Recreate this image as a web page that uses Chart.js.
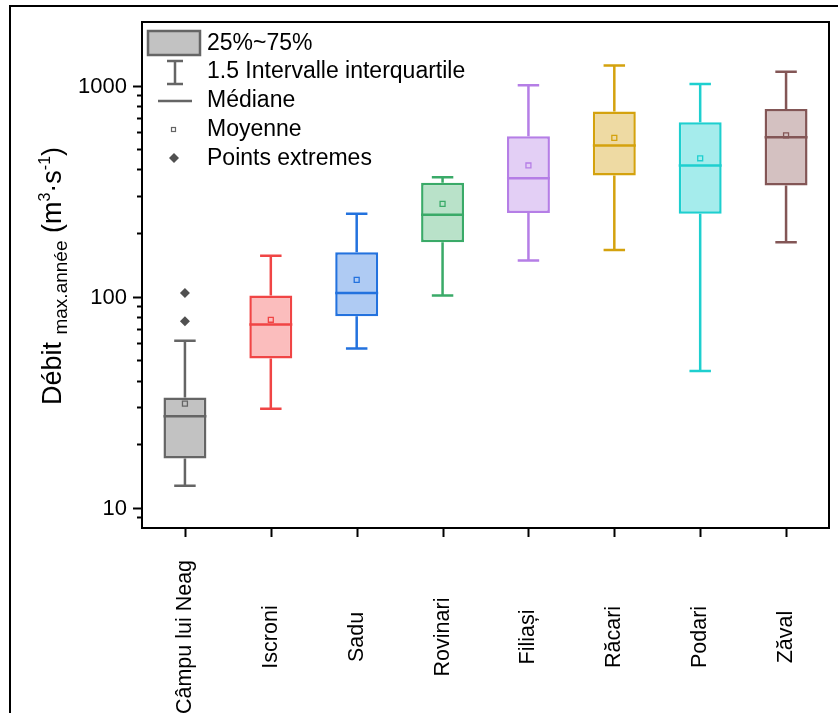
<!DOCTYPE html>
<html>
<head>
<meta charset="utf-8">
<script src="https://cdn.jsdelivr.net/npm/chart.js@4.4.1/dist/chart.umd.min.js"></script>
<style>
  html, body { margin: 0; padding: 0; background: #fff; }
  canvas { display: block; }
</style>
</head>
<body>
<canvas id="boxChart" width="838" height="713"></canvas>
<script>
// Stations (axe X)
const categories = ["Câmpu lui Neag", "Iscroni", "Sadu", "Rovinari", "Filiași", "Răcari", "Podari", "Zăval"];

// Statistiques des boîtes (m3/s)
const whiskerLow  = [12.7, 29.4, 56.7, 101, 148, 166, 44.4, 181];
const q1          = [17.1, 50.8, 80.7, 181, 249, 375, 247, 336];
const medians     = [27.1, 73.7, 104, 244, 364, 520, 418, 569];
const q3          = [33.2, 101, 162, 346, 575, 753, 670, 775];
const whiskerHigh = [61.7, 156, 247, 368, 1003, 1244, 1018, 1161];
const means       = [31.1, 77.6, 120, 275, 418, 565, 452, 580];

// Points extremes (Câmpu lui Neag)
const outlierStation = ["Câmpu lui Neag", "Câmpu lui Neag"];
const outlierValues = [104, 76.4];

// Graduations de l'axe Y
const yTickLabels = [10, 100, 1000];

// Couleurs
const strokeColors = ["#656565", "#F04545", "#2372DE", "#3AAA68", "#B57EE6", "#D4A20E", "#1ECFCF", "#835656"];
const fillColors   = ["#C2C2C2", "#FBBDBD", "#AFCBF3", "#B9E2C9", "#E3CFF5", "#EEDAA3", "#A5ECEC", "#D4C1C1"];

const FONT = "Arial, 'Liberation Sans', sans-serif";

// Plugin: moustaches, médianes, axes, légende
const boxPlugin = {
  id: "boxPlugin",
  beforeDatasetsDraw(chart) {
    const ctx = chart.ctx;
    const y = chart.scales.y;
    const meta = chart.getDatasetMeta(2);
    ctx.save();
    ctx.lineWidth = 2.5;
    meta.data.forEach((bar, i) => {
      const x = bar.x;
      const half = bar.width / 4;
      const yLow = y.getPixelForValue(whiskerLow[i]);
      const yHigh = y.getPixelForValue(whiskerHigh[i]);
      ctx.strokeStyle = strokeColors[i];
      ctx.beginPath();
      ctx.moveTo(x, yLow); ctx.lineTo(x, y.getPixelForValue(q1[i]));
      ctx.moveTo(x, y.getPixelForValue(q3[i])); ctx.lineTo(x, yHigh);
      ctx.moveTo(x - half, yLow); ctx.lineTo(x + half, yLow);
      ctx.moveTo(x - half, yHigh); ctx.lineTo(x + half, yHigh);
      ctx.stroke();
    });
    ctx.restore();
  },
  afterDatasetsDraw(chart) {
    const ctx = chart.ctx;
    const y = chart.scales.y;
    const meta = chart.getDatasetMeta(2);
    ctx.save();
    ctx.lineWidth = 2.5;
    meta.data.forEach((bar, i) => {
      const py = y.getPixelForValue(medians[i]);
      ctx.strokeStyle = strokeColors[i];
      ctx.beginPath();
      ctx.moveTo(bar.x - bar.width / 2, py);
      ctx.lineTo(bar.x + bar.width / 2, py);
      ctx.stroke();
    });
    ctx.restore();
  },
  afterDraw(chart) {
    const ctx = chart.ctx;
    const area = chart.chartArea;
    const xs = chart.scales.x;
    const ys = chart.scales.y;
    ctx.save();

    // cadre extérieur
    ctx.strokeStyle = "#000";
    ctx.lineWidth = 2;
    ctx.beginPath();
    ctx.moveTo(10, 713); ctx.lineTo(10, 6); ctx.lineTo(838, 6);
    ctx.stroke();

    // cadre du graphique
    ctx.strokeRect(area.left, area.top, area.right - area.left, area.bottom - area.top);

    // graduations Y (majeures et mineures)
    ctx.lineWidth = 2;
    for (let p = 0; p <= 3; p++) {
      for (let m = 1; m <= 9; m++) {
        const val = m * Math.pow(10, p);
        if (val < ys.min || val > ys.max) continue;
        const py = Math.round(ys.getPixelForValue(val)) + 0.5;
        if (py > area.bottom - 1 || py < area.top + 1) continue;
        const len = m === 1 ? 9 : 5;
        ctx.beginPath();
        ctx.moveTo(area.left - len, py); ctx.lineTo(area.left, py);
        ctx.stroke();
      }
    }

    ctx.fillStyle = "#000";
    ctx.font = "22px " + FONT;
    ctx.textAlign = "right";
    ctx.textBaseline = "middle";
    yTickLabels.forEach(v => {
      ctx.fillText(String(v), area.left - 15, ys.getPixelForValue(v) + 1);
    });

    // graduations X et étiquettes
    categories.forEach((c, i) => {
      const px = Math.round(xs.getPixelForValue(i)) + 0.5;
      ctx.beginPath();
      ctx.moveTo(px, area.bottom); ctx.lineTo(px, area.bottom + 9);
      ctx.stroke();
      ctx.save();
      ctx.translate(px, 637);
      ctx.rotate(-Math.PI / 2);
      ctx.textAlign = "center";
      ctx.textBaseline = "middle";
      ctx.font = "21.5px " + FONT;
      ctx.fillText(c, 0, 0);
      ctx.restore();
    });

    // titre de l'axe Y
    const parts = [
      { t: "Débit ", s: 27, dy: 0 },
      { t: "max.année", s: 19, dy: 6 },
      { t: " (m", s: 27, dy: 0 },
      { t: "3", s: 16, dy: -11 },
      { t: "·s", s: 27, dy: 0 },
      { t: "-1", s: 16, dy: -11 },
      { t: ")", s: 27, dy: 0 }
    ];
    let total = 0;
    parts.forEach(p => { ctx.font = p.s + "px " + FONT; p.w = ctx.measureText(p.t).width; total += p.w; });
    ctx.save();
    ctx.translate(61, 276);
    ctx.rotate(-Math.PI / 2);
    ctx.textAlign = "left";
    ctx.textBaseline = "alphabetic";
    let cx = -total / 2;
    parts.forEach(p => {
      ctx.font = p.s + "px " + FONT;
      ctx.fillText(p.t, cx, p.dy);
      cx += p.w;
    });
    ctx.restore();

    // légende
    ctx.font = "23px " + FONT;
    ctx.textAlign = "left";
    ctx.textBaseline = "middle";
    const legendColor = "#656565";
    ctx.fillStyle = "#C2C2C2";
    ctx.fillRect(148, 31, 52, 24);
    ctx.strokeStyle = legendColor;
    ctx.lineWidth = 2.5;
    ctx.strokeRect(148, 31, 52, 24);
    ctx.beginPath();
    ctx.moveTo(175, 61); ctx.lineTo(175, 84);
    ctx.moveTo(167, 61); ctx.lineTo(183, 61);
    ctx.moveTo(167, 84); ctx.lineTo(183, 84);
    ctx.moveTo(158, 101); ctx.lineTo(192, 101);
    ctx.stroke();
    ctx.lineWidth = 1.2;
    ctx.strokeRect(171.5, 127.5, 4, 4);
    ctx.fillStyle = "#505050";
    ctx.beginPath();
    ctx.moveTo(174, 153); ctx.lineTo(179, 158); ctx.lineTo(174, 163); ctx.lineTo(169, 158);
    ctx.closePath();
    ctx.fill();
    ctx.fillStyle = "#000";
    ctx.fillText("25%~75%", 207, 44);
    ctx.fillText("1.5 Intervalle interquartile", 207, 72);
    ctx.fillText("Médiane", 207, 101);
    ctx.fillText("Moyenne", 207, 130);
    ctx.fillText("Points extremes", 207, 159);

    ctx.restore();
  }
};

const ctx = document.getElementById("boxChart").getContext("2d");

new Chart(ctx, {
  type: "bar",
  data: {
    labels: categories,
    datasets: [
      {
        type: "line",
        label: "Moyenne",
        data: means,
        showLine: false,
        pointStyle: "rect",
        pointRadius: 3.5,
        pointBorderWidth: 1.3,
        pointBorderColor: strokeColors,
        pointBackgroundColor: "rgba(0,0,0,0)",
        order: 0
      },
      {
        type: "line",
        label: "Points extremes",
        data: outlierStation.map((s, i) => ({ x: s, y: outlierValues[i] })),
        showLine: false,
        pointStyle: "rectRot",
        pointRadius: 5,
        pointBorderWidth: 0,
        pointBackgroundColor: "#505050",
        pointBorderColor: "#505050",
        order: 0
      },
      {
        label: "25%~75%",
        data: q1.map((v, i) => [v, q3[i]]),
        backgroundColor: fillColors,
        borderColor: strokeColors,
        borderWidth: 2.5,
        borderSkipped: false,
        barPercentage: 0.5,
        categoryPercentage: 1,
        order: 1
      }
    ]
  },
  options: {
    responsive: false,
    animation: false,
    layout: { padding: { left: 142, top: 22, right: 9, bottom: 185 } },
    scales: {
      x: { display: false, offset: true },
      y: { type: "logarithmic", display: false, min: 8, max: 2000 }
    },
    plugins: {
      legend: { display: false },
      tooltip: { enabled: false }
    }
  },
  plugins: [boxPlugin]
});
</script>
</body>
</html>
